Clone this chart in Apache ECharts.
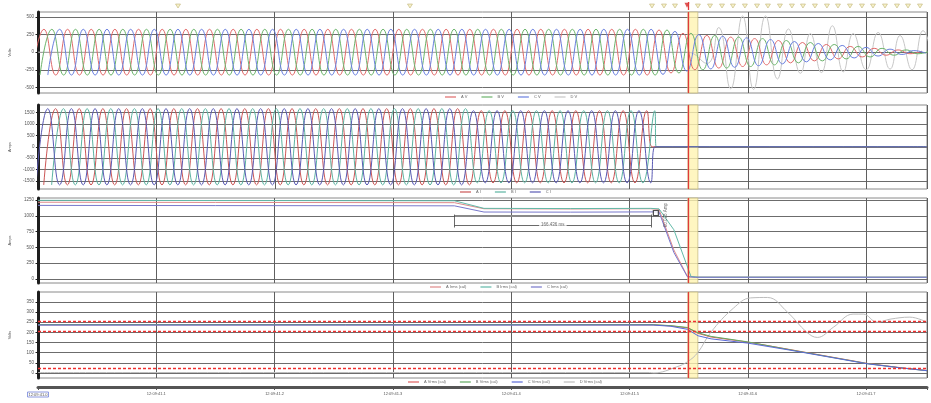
<!DOCTYPE html>
<html>
<head>
<meta charset="utf-8">
<script src="https://cdn.jsdelivr.net/npm/echarts@6/dist/echarts.min.js"></script>
<style>
html,body{margin:0;padding:0;background:#fff;}
#chart{width:931px;height:403px;}
</style>
</head>
<body>
<div id="chart"></div>
<script>
// ---------- time axis (seconds after 12:09:41.000) ----------
const TIME_END = 0.7515;
const timeTickLabels = ['12:09:41.0','12:09:41.1','12:09:41.2','12:09:41.3','12:09:41.4','12:09:41.5','12:09:41.6','12:09:41.7'];

// ---------- axis ticks ----------
const voltTicks = [-500, -250, 0, 250, 500];
const ampTicks = [-1500, -1000, -500, 0, 500, 1000, 1500];
const rmsAmpTicks = [0, 250, 500, 750, 1000, 1250];
const rmsVoltTicks = [0, 50, 100, 150, 200, 250, 300, 350];

// ---------- instantaneous phase voltages: one extremum per half cycle ----------
const vFirstCrest = [0.005, 0.0117, 0.0183];      // A, B, C
const vHalfCycle = 0.01;
const vPeak = 325;
const vSteadyUntil = 0.525;
const vDecayHalfCycle = 0.0101;
const vDecayPeaks = [315, 295, 268, 250, 238, 226, 215, 204, 193, 180, 166, 152, 138, 124, 110, 96, 82, 68, 55, 43, 32, 22, 15];

// D V extrema [s, V]
const dVoltExtrema = [[0, 0], [0.54, 0], [0.549, 0], [0.5655, -160], [0.5754, 350], [0.5855, -520], [0.5956, 515],
  [0.6049, -530], [0.615, 515], [0.6251, -380], [0.6344, 330], [0.6445, -300], [0.6529, 265], [0.6622, -290],
  [0.6715, 375], [0.6807, -280], [0.6891, 265], [0.7001, -250], [0.7102, 280], [0.7203, -240], [0.7287, 236],
  [0.7388, -250], [0.7481, 306], [0.7574, -250]];

// ---------- instantaneous phase currents ----------
const iFirstCrest = [0.0145, 0.0212, 0.0079];     // A, B, C
const iHalfCycle = 0.01;
const iPeakEarly = 1670;
const iPeakLate = 1580;
const iPeakChange = 0.365;
const iCut = [0.519, 0.5225, 0.5215];

// ---------- RMS currents [s, A] ----------
const aIrms = [[0, 1215], [0.15, 1212], [0.352, 1208], [0.377, 1112], [0.45, 1108], [0.518, 1112], [0.525, 1100], [0.5375, 460], [0.549, 40], [0.556, 30], [TIME_END, 30]];
const bIrms = [[0, 1245], [0.15, 1242], [0.352, 1238], [0.377, 1118], [0.45, 1115], [0.518, 1118], [0.525, 1110], [0.5375, 780], [0.552, 40], [0.558, 30], [TIME_END, 30]];
const cIrms = [[0, 1165], [0.15, 1162], [0.352, 1158], [0.377, 1060], [0.45, 1058], [0.518, 1062], [0.525, 1060], [0.5375, 420], [0.549, 35], [0.556, 27], [TIME_END, 27]];

// ---------- RMS voltages [s, V] ----------
const aVrms = [[0, 237], [0.52, 237], [0.535, 232], [0.549, 222], [0.558, 195], [0.569, 177], [0.6, 152], [0.634, 117], [0.672, 77], [0.701, 47], [0.729, 26], [TIME_END, 12]];
const bVrms = [[0, 238], [0.52, 238], [0.535, 233], [0.549, 224], [0.558, 198], [0.569, 180], [0.6, 153], [0.634, 116], [0.672, 76], [0.701, 46], [0.729, 25], [TIME_END, 11]];
const cVrms = [[0, 236], [0.52, 236], [0.535, 230], [0.549, 215], [0.558, 183], [0.569, 168], [0.6, 147], [0.634, 114], [0.672, 75], [0.701, 45], [0.729, 25], [TIME_END, 11]];
const dVrms = [[0, 2], [0.517, 2], [0.5206, 0], [0.54, 30], [0.549, 55], [0.5577, 100], [0.5687, 200], [0.588, 320], [0.6024, 370],
  [0.6167, 372], [0.6335, 300], [0.65, 200], [0.6588, 175], [0.6723, 225], [0.689, 290], [0.6976, 290], [0.7094, 250],
  [0.7203, 265], [0.737, 275], [TIME_END, 250]];
const vrmsLimits = [253, 207, 23];

// ---------- cursor, markers, measurement ----------
const cursorTime = 0.5493;
const cursorBandEnd = 0.5578;
const eventMarkTimes = [0.1205, 0.3159, 0.5198, 0.5299, 0.5392, 0.5585, 0.5687, 0.5788, 0.588, 0.5981, 0.6083, 0.6175,
  0.6276, 0.6377, 0.647, 0.6571, 0.6672, 0.6765, 0.6866, 0.6967, 0.706, 0.7161, 0.7262, 0.7355, 0.7456];
const measureStart = 0.352;
const measureDuration = 0.166436;   // s
const measureLevel = 1000;
const measureLineLevel = 855;
const deltaAmpText = '60.078 Amp';
const deltaAmpAt = [0.5306, 1010];
const markerBoxAt = [0.5223, 1045];

// ---------- colours ----------
const FONT = 'Liberation Sans, Arial, sans-serif';
const vColors = ['#e06a6a', '#6cb46c', '#6a80e0', '#c6c6c6'];
const iColors = ['#cc5656', '#5cb4a2', '#5a5ab4'];
const irmsColors = ['#e08a8a', '#62baa8', '#7878cc'];
const vrmsColors = ['#e06060', '#62aa62', '#5a6ad8', '#bdbdbd'];

// ---------- waveform construction from half-cycle extrema ----------
function voltageExtrema(firstCrest) {
  const pts = [];
  let t = firstCrest - vHalfCycle;
  let sign = -1;
  while (t <= vSteadyUntil) { pts.push([t, sign * vPeak]); t += vHalfCycle; sign = -sign; }
  for (const a of vDecayPeaks) { pts.push([t, sign * a]); t += vDecayHalfCycle; sign = -sign; }
  return pts;
}
function currentExtrema(firstCrest, cut) {
  const pts = [];
  let t = firstCrest - iHalfCycle;
  let sign = -1;
  while (t < cut) {
    pts.push([t, sign * (t < iPeakChange ? iPeakEarly : iPeakLate)]);
    t += iHalfCycle; sign = -sign;
  }
  pts.push([cut, 0]);
  pts.push([cut + 0.004, 0]);
  pts.push([TIME_END, 0]);
  return pts;
}

// ---------- layout ----------
const LEFT = 35, RIGHT = 4;
const panels = [
  { top: 12, height: 81, min: -580, max: 571, ticks: voltTicks, name: 'Volts' },
  { top: 105, height: 84, min: -1850, max: 1830, ticks: ampTicks, name: 'Amps' },
  { top: 198, height: 85, min: -63, max: 1282, ticks: rmsAmpTicks, name: 'Amps' },
  { top: 292, height: 86, min: -25, max: 399, ticks: rmsVoltTicks, name: 'Volts' }
];

const grid = panels.map(p => ({
  left: LEFT, right: RIGHT, top: p.top, height: p.height,
  show: true, borderColor: '#8a8a8a', borderWidth: 1, backgroundColor: '#fff'
}));
grid.push({ left: LEFT, right: RIGHT, top: 2, height: 8 });

const xAxis = panels.map((p, i) => {
  const bottom = i === 3;
  return {
    type: 'value', gridIndex: i, min: 0, max: TIME_END, interval: 0.1,
    offset: bottom ? 9 : 0,
    axisLine: { show: bottom, onZero: false, lineStyle: { color: '#555', width: 3 } },
    axisTick: { show: bottom, length: 3, lineStyle: { color: '#555' } },
    minorTick: { show: bottom, splitNumber: 2, length: 2, lineStyle: { color: '#555' } },
    axisLabel: {
      show: bottom, fontSize: 4, color: '#555', margin: 5, fontFamily: FONT,
      formatter: v => {
        const k = Math.round(v * 10);
        const s = timeTickLabels[k] || '';
        return k === 0 ? '{box|' + s + '}' : s;
      },
      rich: { box: { borderColor: '#6f7fd8', borderWidth: 0.8, padding: [1, 1, 0, 1], fontSize: 4, color: '#555' } }
    },
    splitLine: { show: true, lineStyle: { color: '#5f5f5f', width: 1 } }
  };
});
xAxis.push({ type: 'value', gridIndex: 4, min: 0, max: TIME_END, show: false });

const yAxis = panels.map((p, i) => ({
  type: 'value', gridIndex: i, min: p.min, max: p.max,
  name: p.name, nameLocation: 'middle', nameGap: 26, nameRotate: 90,
  nameTextStyle: { fontSize: 4, color: '#555', fontFamily: FONT },
  axisLine: { show: true, onZero: false, lineStyle: { color: '#1e1e1e', width: 3 } },
  axisTick: { show: true, customValues: p.ticks, length: 2.5, lineStyle: { color: '#1e1e1e' } },
  axisLabel: { customValues: p.ticks, fontSize: 4.5, color: '#555', margin: 4, fontFamily: FONT, formatter: v => String(v) },
  splitLine: { show: true, lineStyle: { color: '#6c6c6c', width: 1 } }
}));
yAxis.push({ type: 'value', gridIndex: 4, min: 0, max: 1, show: false });

// cursor decoration shared by every panel
function cursorMarks(extraLines) {
  return {
    markArea: {
      silent: true,
      itemStyle: { color: 'rgba(255,244,178,0.8)', borderColor: '#c9bf86', borderWidth: 0.8 },
      data: [[{ xAxis: cursorTime }, { xAxis: cursorBandEnd }]]
    },
    markLine: {
      silent: true, symbol: ['none', 'none'], animation: false,
      label: { show: false },
      lineStyle: { color: '#e03a3a', width: 1.3, type: 'solid' },
      data: [{ xAxis: cursorTime }].concat(extraLines || [])
    }
  };
}

function line(name, gi, data, color, extra) {
  return Object.assign({
    name, type: 'line', xAxisIndex: gi, yAxisIndex: gi, data,
    symbol: 'none', showSymbol: false, animation: false,
    lineStyle: { color, width: 1 }, itemStyle: { color }
  }, extra || {});
}

const vNames = ['A V', 'B V', 'C V', 'D V'];
const iNames = ['A I', 'B I', 'C I'];
const irmsNames = ['A Irms (cal)', 'B Irms (cal)', 'C Irms (cal)'];
const vrmsNames = ['A Vrms (cal)', 'B Vrms (cal)', 'C Vrms (cal)', 'D Vrms (cal)'];

const series = [];
// panel 1: phase voltages
series.push(line(vNames[3], 0, dVoltExtrema, vColors[3], Object.assign({ smooth: 0.5, z: 2 }, cursorMarks())));
for (let k = 0; k < 3; k++) {
  series.push(line(vNames[k], 0, voltageExtrema(vFirstCrest[k]), vColors[k], { smooth: 0.5, z: 3 }));
}
// panel 2: phase currents
for (let k = 0; k < 3; k++) {
  series.push(line(iNames[k], 1, currentExtrema(iFirstCrest[k], iCut[k]), iColors[k],
    Object.assign({ smooth: 0.5, z: 3 }, k === 0 ? cursorMarks() : {})));
}
// panel 3: RMS currents
const irmsData = [aIrms, bIrms, cIrms];
for (let k = 0; k < 3; k++) {
  series.push(line(irmsNames[k], 2, irmsData[k], irmsColors[k], Object.assign({ z: 3 }, k === 0 ? cursorMarks() : {})));
}
// panel 3: measurement overlay
const measureEnd = measureStart + measureDuration;
series.push({
  name: 'measure', type: 'scatter', xAxisIndex: 2, yAxisIndex: 2, animation: false, z: 5,
  symbolSize: 0,
  data: [
    { value: [(measureStart + measureEnd) / 2, measureLineLevel],
      label: { show: true, position: 'inside', formatter: (measureDuration * 1000).toFixed(3) + ' ms',
        fontSize: 4.5, color: '#444', backgroundColor: '#fff', padding: [0, 2], fontFamily: FONT } },
    { value: deltaAmpAt,
      label: { show: true, position: 'inside', rotate: 90, formatter: deltaAmpText,
        fontSize: 4.5, color: '#444', fontFamily: FONT } },
    { value: markerBoxAt, symbol: 'rect', symbolSize: [5, 5],
      itemStyle: { color: '#fff', borderColor: '#222', borderWidth: 1.2 } }
  ],
  markLine: {
    silent: true, symbol: ['none', 'none'], animation: false, label: { show: false },
    lineStyle: { color: '#444', width: 0.8, type: 'solid' },
    data: [
      [{ coord: [measureStart, measureLevel], lineStyle: { color: '#8a8a8a', width: 2.2 } }, { coord: [measureEnd, measureLevel] }],
      [{ coord: [measureStart, measureLineLevel] }, { coord: [measureEnd, measureLineLevel] }],
      [{ coord: [measureStart, measureLevel + 20] }, { coord: [measureStart, measureLineLevel - 40] }],
      [{ coord: [measureEnd, measureLevel + 20] }, { coord: [measureEnd, measureLineLevel - 40] }]
    ]
  }
});
// panel 4: RMS voltages
const vrmsData = [aVrms, bVrms, cVrms];
const limitLines = vrmsLimits.map(v => ({ yAxis: v, lineStyle: { color: '#f03030', width: 1.4, type: [3, 2] } }));
series.push(line(vrmsNames[3], 3, dVrms, vrmsColors[3], Object.assign({ smooth: 0.4, z: 2 }, cursorMarks(limitLines))));
for (let k = 0; k < 3; k++) {
  series.push(line(vrmsNames[k], 3, vrmsData[k], vrmsColors[k], { z: 3 }));
}
// event markers above the first panel
series.push({
  name: 'events', type: 'scatter', xAxisIndex: 4, yAxisIndex: 4, animation: false,
  symbol: 'triangle', symbolRotate: 180, symbolSize: [5, 4],
  itemStyle: { color: '#f4eebb', borderColor: '#b3a560', borderWidth: 0.6 },
  data: eventMarkTimes.map(t => [t, 0.5])
});
series.push({
  name: 'cursorTop', type: 'scatter', xAxisIndex: 4, yAxisIndex: 4, animation: false,
  symbol: 'triangle', symbolRotate: 180, symbolSize: [5, 5],
  itemStyle: { color: '#d42a2a' },
  data: [[cursorTime, 0.6]],
  markLine: { silent: true, symbol: ['none', 'none'], label: { show: false },
    lineStyle: { color: '#e03a3a', width: 1.3, type: 'solid' }, data: [{ xAxis: cursorTime }] }
});

function legend(names, left, top) {
  return {
    data: names, left, top, padding: 0, icon: 'rect', itemWidth: 11, itemHeight: 1.2, itemGap: 14,
    textStyle: { fontSize: 4, color: '#666', fontFamily: FONT },
    selectedMode: false
  };
}

const option = {
  backgroundColor: '#fff',
  animation: false,
  textStyle: { fontFamily: FONT },
  grid, xAxis, yAxis, series,
  legend: [
    legend(vNames, 445, 95),
    legend(iNames, 460, 190),
    legend(irmsNames, 430, 285),
    legend(vrmsNames, 408, 380)
  ]
};

const chart = echarts.init(document.getElementById('chart'), null, { renderer: 'canvas' });
chart.setOption(option);
</script>
</body>
</html>
